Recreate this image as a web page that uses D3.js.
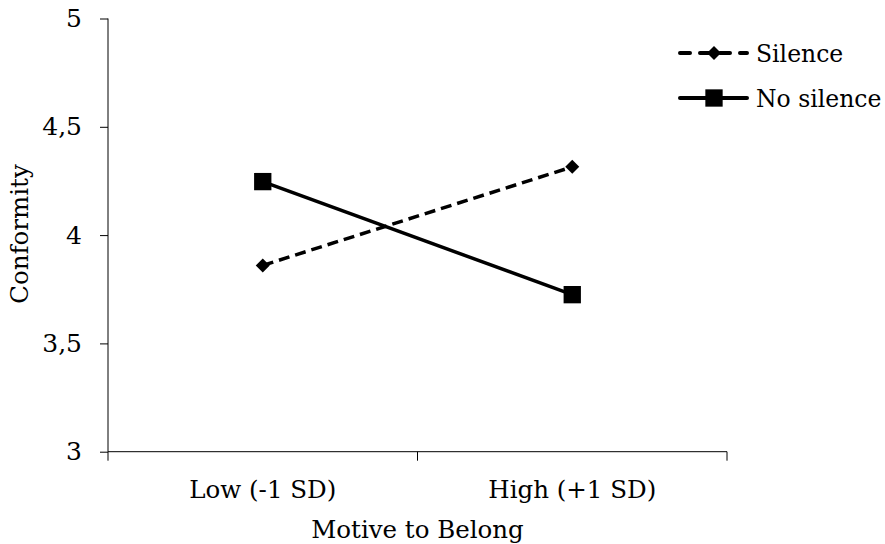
<!DOCTYPE html>
<html>
<head>
<meta charset="utf-8">
<script src="https://cdn.jsdelivr.net/npm/d3@7/dist/d3.min.js"></script>
<style>
  body { margin: 0; background: #fff; }
  svg text { font-family: "DejaVu Serif", serif; fill: #000; }
  .axis path, .axis line { stroke: #000; }
</style>
</head>
<body>
<div class="container"></div>
<script>
var categories = ['Low (-1 SD)', 'High (+1 SD)'],
	silence = [3.86, 4.315],
	noSilence = [4.247, 3.725],
	yTicks = [3, 3.5, 4, 4.5, 5],
	seriesNames = ['Silence', 'No silence'],
	WIDTH = 885,
	HEIGHT = 544,
	LEFT = 108,
	RIGHT = 727,
	TOP = 18.5,
	BOTTOM = 451.7;

function translate(x, y) {
	return 'translate(' + x + ',' + y + ')';
}

var svg = d3.select('.container').append('svg')
	.attr('width', WIDTH)
	.attr('height', HEIGHT);

var xScale = d3.scaleBand()
	.domain(categories)
	.range([LEFT, RIGHT]);

var yScale = d3.scaleLinear()
	.domain([3, 5])
	.range([BOTTOM, TOP]);

var xAxis = d3.axisBottom(xScale)
	.tickSize(0)
	.tickPadding(29);

var yAxis = d3.axisLeft(yScale)
	.tickValues(yTicks)
	.tickSize(8)
	.tickPadding(18)
	.tickFormat(function(d) { return String(d).replace('.', ','); });

var xAxisGroup = svg.append('g')
	.attr('class', 'axis')
	.attr('transform', translate(0, BOTTOM))
	.call(xAxis);
xAxisGroup.select('.domain').attr('d', 'M' + LEFT + ',0H' + RIGHT);
xAxisGroup.selectAll('text').style('font-size', '24.5px');

// category boundary ticks
xAxisGroup.selectAll('.sep')
	.data([LEFT, xScale(categories[1]), RIGHT]).enter()
	.append('line')
	.attr('x1', function(d) { return d; })
	.attr('x2', function(d) { return d; })
	.attr('y1', 0)
	.attr('y2', 9)
	.attr('stroke', '#777');

var yAxisGroup = svg.append('g')
	.attr('class', 'axis')
	.attr('transform', translate(LEFT, 0))
	.call(yAxis);
yAxisGroup.select('.domain').attr('d', 'M0,' + TOP + 'V' + BOTTOM);
yAxisGroup.selectAll('.tick line').attr('stroke', '#777');
yAxisGroup.selectAll('text').style('font-size', '25px');

svg.append('text')
	.attr('transform', translate(28, 234) + ' rotate(-90)')
	.attr('text-anchor', 'middle')
	.style('font-size', '24.5px')
	.text('Conformity');

svg.append('text')
	.attr('x', (LEFT + RIGHT) / 2)
	.attr('y', 538)
	.attr('text-anchor', 'middle')
	.style('font-size', '24.5px')
	.text('Motive to Belong');

function cx(d, i) { return xScale(categories[i]) + xScale.bandwidth() / 2; }

var line = d3.line()
	.x(function(d, i) { return cx(d, i); })
	.y(function(d) { return yScale(d); });

svg.append('path')
	.datum(silence)
	.attr('d', line)
	.attr('fill', 'none')
	.attr('stroke', '#000')
	.attr('stroke-width', 3.5)
	.attr('stroke-dasharray', '11,6');

svg.append('path')
	.datum(noSilence)
	.attr('d', line)
	.attr('fill', 'none')
	.attr('stroke', '#000')
	.attr('stroke-width', 3.5);

var diamond = d3.symbol().type(d3.symbolDiamond2).size(125);
var square = d3.symbol().type(d3.symbolSquare).size(300);

svg.selectAll('.dia')
	.data(silence).enter()
	.append('path')
	.attr('d', diamond)
	.attr('transform', function(d, i) { return translate(cx(d, i), yScale(d)); });

svg.selectAll('.sq')
	.data(noSilence).enter()
	.append('path')
	.attr('d', square)
	.attr('transform', function(d, i) { return translate(cx(d, i), yScale(d)); });

// legend
var legend = svg.append('g').attr('transform', translate(678, 0));
var legendY = [53, 98];

legend.selectAll('line')
	.data(seriesNames).enter()
	.append('line')
	.attr('x1', 2)
	.attr('x2', 69)
	.attr('y1', function(d, i) { return legendY[i]; })
	.attr('y2', function(d, i) { return legendY[i]; })
	.attr('stroke', '#000')
	.attr('stroke-width', 4)
	.attr('stroke-linecap', 'round')
	.attr('stroke-dasharray', function(d, i) { return i === 0 ? '10,10' : null; });

legend.append('path')
	.attr('d', diamond)
	.attr('transform', translate(36, legendY[0]));
legend.append('path')
	.attr('d', square)
	.attr('transform', translate(36, legendY[1]));

legend.selectAll('text')
	.data(seriesNames).enter()
	.append('text')
	.attr('x', 78)
	.attr('y', function(d, i) { return legendY[i] + 9; })
	.style('font-size', '23.5px')
	.text(function(d) { return d; });
</script>
</body>
</html>
